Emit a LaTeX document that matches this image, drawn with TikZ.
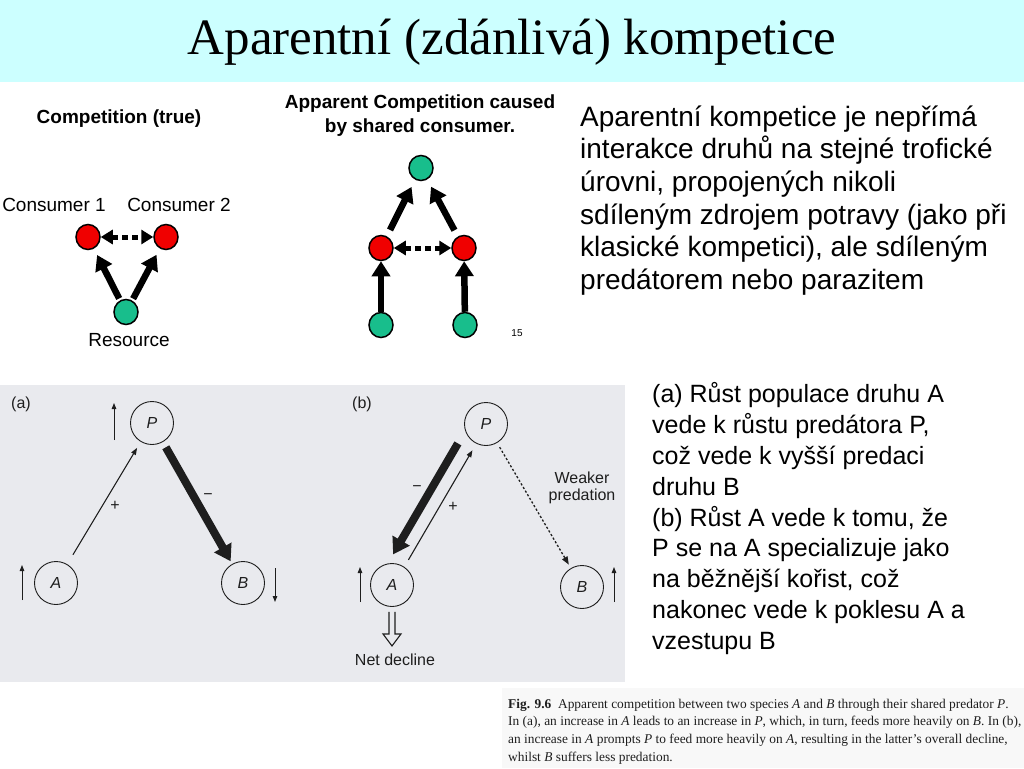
\documentclass[tikz,border=0pt]{standalone}
\usepackage{fontspec}
\setmainfont{Liberation Serif}
\newfontfamily\arial{Liberation Sans}
\usetikzlibrary{arrows.meta,shapes.geometric,calc}
\definecolor{titlebg}{RGB}{204,255,255}
\definecolor{nodered}{RGB}{240,0,0}
\definecolor{nodegreen}{RGB}{24,190,140}
\definecolor{scanbg}{RGB}{233,234,238}
\definecolor{capbg}{RGB}{248,248,248}
\definecolor{ink}{RGB}{30,30,30}
\begin{document}
\begin{tikzpicture}[x=1pt,y=-1pt,
  redn/.style={ellipse, draw=black, line width=1.5pt, fill=nodered, minimum width=24pt, minimum height=25pt, inner sep=0pt},
  greenn/.style={redn, fill=nodegreen, minimum height=25pt},
  lab/.style={font=\arial\fontsize{19}{22}\selectfont, inner sep=0pt},
  blab/.style={font=\arial\bfseries\fontsize{19}{24}\selectfont, inner sep=0pt, align=center},
  bigarr/.style={line width=6.5pt, -{Triangle[length=15pt,width=18pt]}},
  dasharr/.style={line width=5pt, dash pattern=on 6pt off 4pt, {Triangle[length=12pt,width=14pt]}-{Triangle[length=12pt,width=14pt]}},
  sn/.style={circle, draw=ink, line width=0.9pt, minimum size=43pt, inner sep=0pt, text=ink, font=\arial\itshape\fontsize{16}{18}\selectfont},
  slab/.style={text=ink, inner sep=0pt, font=\arial\fontsize{16}{17}\selectfont},
  thinarr/.style={draw=ink, line width=1.1pt, -{Triangle[length=7pt,width=5pt]}},
  thickarr/.style={draw=ink, line width=8pt, -{Triangle[length=16pt,width=19pt]}},
  dotarr/.style={draw=ink, line width=1.3pt, dash pattern=on 2.2pt off 2pt, -{Triangle[length=8pt,width=6pt]}},
  smallarr/.style={draw=ink, line width=1pt, -{Triangle[length=6pt,width=4.5pt]}},
  bodytext/.style={anchor=north west, align=left, inner sep=0pt}
]
\useasboundingbox (0,0) rectangle (1024,768);
\fill[white] (0,0) rectangle (1024,768);
% title band
\fill[titlebg] (0,0) rectangle (1024,82);
\node[anchor=base, inner sep=0pt, font=\fontsize{51}{60}\selectfont] (title) at (512,55) {Aparentní (zdánlivá) kompetice};

% ---- top left: true competition
\node[blab] (t1) at (119,119) {Competition (true)};
\node[lab] (c1l) at (54,205) {Consumer 1};
\node[lab] (c2l) at (179,205) {Consumer 2};
\node[redn] (c1) at (88,237) {};
\node[redn] (c2) at (166,237) {};
\node[greenn] (res) at (126,312) {};
\node[lab] (resl) at (129,340) {Resource};
\draw[bigarr, shorten <=2pt, shorten >=7pt] (res) -- (c1);
\draw[bigarr, shorten <=2pt, shorten >=7pt] (res) -- (c2);
\draw[dasharr] (c1) -- (c2);

% ---- top middle: apparent competition
\node[blab] (t2) at (420,116) {Apparent Competition caused\\by shared consumer.};
\node[greenn] (top) at (421,168) {};
\node[redn] (rl) at (381,248) {};
\node[redn] (rr) at (464,248) {};
\node[greenn] (bl) at (381,325) {};
\node[greenn] (br) at (465,325) {};
\node[inner sep=0pt, font=\arial\fontsize{10}{12}\selectfont] (pg) at (517,333) {15};
\draw[bigarr, shorten <=7pt, shorten >=8pt] (rl) -- (top);
\draw[bigarr, shorten <=7pt, shorten >=8pt] (rr) -- (top);
\draw[bigarr] (bl) -- (rl);
\draw[bigarr] (br) -- (rr);
\draw[dasharr] (rl) -- (rr);

% ---- right text
\node[bodytext, font=\arial\fontsize{28}{32.6}\selectfont] (txt1) at (580,98) {\rule{0pt}{28pt}Aparentní kompetice je nepřímá\\interakce druhů na stejné trofické\\úrovni, propojených nikoli\\sdíleným zdrojem potravy (jako při\\klasické kompetici), ale sdíleným\\predátorem nebo parazitem};

% ---- scanned figure
\fill[scanbg] (0,385) rectangle (625,682);
% (a)
\node[slab] (la) at (21,404) {(a)};
\node[sn] (Pa) at (152,423) {P};
\node[sn] (Aa) at (56,583) {A};
\node[sn] (Ba) at (243,583) {B};
\draw[thinarr, shorten <=11pt, shorten >=7pt] (Aa) -- (Pa);
\draw[thickarr, shorten <=6pt, shorten >=3pt] (Pa) -- (Ba);
\node[slab] (plusa) at (115,506) {+};
\node[slab] (minusa) at (208,497) {−};
\draw[smallarr] ($(Pa)+(-38,17)$) -- ($(Pa)+(-38,-20)$);
\draw[smallarr] ($(Aa)+(-34,17)$) -- ($(Aa)+(-34,-18)$);
\draw[smallarr] ($(Ba)+(32,-15)$) -- ($(Ba)+(32,19)$);
% (b)
\node[slab] (lb) at (362,404) {(b)};
\node[sn] (Pb) at (486,424) {P};
\node[sn] (Ab) at (392,585) {A};
\node[sn] (Bb) at (582,587) {B};
\draw[thickarr, shorten <=9pt, shorten >=5pt, transform canvas={shift={(-12.5pt,7.3pt)}}] (Pb) -- (Ab);
\draw[thinarr, shorten <=8pt, shorten >=7.5pt, transform canvas={shift={(1.3pt,-0.75pt)}}] (Ab) -- (Pb);
\draw[dotarr, shorten <=5pt, shorten >=4pt] (Pb) -- (Bb);
\node[slab] (minusb) at (417,489) {−};
\node[slab] (plusb) at (453,507) {+};
\node[slab, align=center] (weak) at (582,488) {Weaker\\predation};
\draw[smallarr] ($(Ab)+(-32,17)$) -- ($(Ab)+(-32,-18)$);
\draw[smallarr] ($(Bb)+(32,15)$) -- ($(Bb)+(32,-20)$);
\draw[draw=ink, line width=1.1pt] ($(Ab.south)+(-3,5)$) -- ++(0,22) -- ++(-6,0) -- ++(9,12) -- ++(9,-12) -- ++(-6,0) -- ++(0,-22);
\node[slab] (net) at (395,660) {Net decline};

% ---- lower right text
\node[bodytext, font=\arial\fontsize{25}{30.8}\selectfont] (txt2) at (652,377.6) {\rule{0pt}{25pt}(a) Růst populace druhu A\\vede k růstu predátora P,\\což vede k vyšší predaci\\druhu B\\(b) Růst A vede k tomu, že\\P se na A specializuje jako\\na běžnější kořist, což\\nakonec vede k poklesu A a\\vzestupu B};

% ---- caption
\fill[capbg] (502,688) rectangle (1024,768);
\node[bodytext, text=ink, font=\fontsize{13.4}{17.7}\selectfont] (cap) at (508,694.6) {\rule{0pt}{13.4pt}\textbf{Fig. 9.6}\ \ Apparent competition between two species \textit{A} and \textit{B} through their shared predator \textit{P}.\\In (a), an increase in \textit{A} leads to an increase in \textit{P}, which, in turn, feeds more heavily on \textit{B}. In (b),\\an increase in \textit{A} prompts \textit{P} to feed more heavily on \textit{A}, resulting in the latter’s overall decline,\\whilst \textit{B} suffers less predation.};
\end{tikzpicture}
\end{document}
